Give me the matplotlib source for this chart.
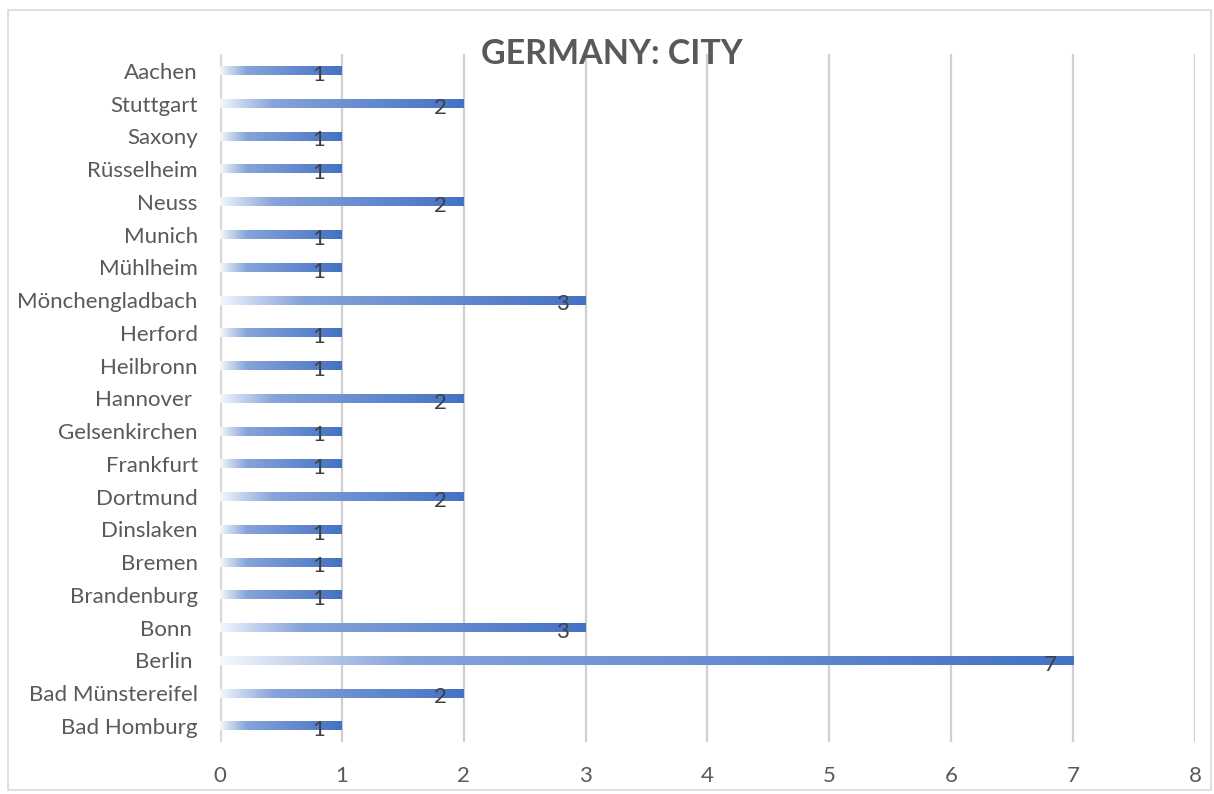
import matplotlib
matplotlib.use("Agg")
import matplotlib.pyplot as plt
import numpy as np
from matplotlib.colors import LinearSegmentedColormap
from matplotlib.patches import Rectangle

cities = ["Bad Homburg", "Bad Münstereifel", "Berlin ", "Bonn ", "Brandenburg",
          "Bremen", "Dinslaken", "Dortmund", "Frankfurt", "Gelsenkirchen",
          "Hannover ", "Heilbronn", "Herford", "Mönchengladbach", "Mühlheim",
          "Munich", "Neuss", "Rüsselheim", "Saxony", "Stuttgart", "Aachen"]
counts = [1, 2, 7, 3, 1, 1, 1, 2, 1, 1, 2, 1, 1, 3, 1, 1, 2, 1, 1, 2, 1]
x_ticks = [0, 1, 2, 3, 4, 5, 6, 7, 8]
title = "GERMANY: CITY"

plt.rcParams['font.family'] = ['Lato', 'DejaVu Sans']
text_color = "#595959"
grid_color = "#D0D0D0"

fig = plt.figure(figsize=(12.14, 7.94), dpi=100)
ax = fig.add_axes([0.1812, 0.065, 0.8031, 0.8665])

grad = LinearSegmentedColormap.from_list(
    "bar_grad", [(0.0, "#F4F7FC"), (0.08, "#C9D6EF"), (0.22, "#86A3DA"),
                 (1.0, "#4472C4")])
ramp = np.linspace(0, 1, 256).reshape(1, -1)

bar_h = 0.27
ypos = np.arange(len(cities))
for y, v in zip(ypos, counts):
    ax.imshow(ramp, cmap=grad, aspect="auto", interpolation="bilinear",
              extent=[0, v, y - bar_h / 2, y + bar_h / 2], zorder=3)
    ax.annotate(str(v), xy=(v, y), xytext=(-16.5, -3), textcoords="offset points",
                ha="center", va="center", fontsize=16, color="#404040", zorder=4)

ax.set_xlim(0, 8)
ax.set_ylim(-0.5, len(cities) - 0.5)
ax.set_xticks(x_ticks)
ax.set_xticklabels([str(t) for t in x_ticks])
ax.set_yticks(ypos)
ax.set_yticklabels(cities)
ax.tick_params(axis="both", length=0, labelsize=16, colors=text_color)
ax.tick_params(axis="x", pad=17)
ax.tick_params(axis="y", pad=16)
for s in ax.spines.values():
    s.set_visible(False)
for t in x_ticks[1:]:
    ax.axvline(t, color=grid_color, lw=1.6, zorder=1)
ax.axvline(0, color="#D9D9D9", lw=2.5, zorder=2)

fig.text(0.504, 0.932, title, ha="center", va="center", fontsize=24.5,
         fontweight="bold", color=text_color)

fig.patches.append(Rectangle((8 / 1214, 4 / 794), 1203 / 1214, 780 / 794,
                             transform=fig.transFigure, fill=False,
                             edgecolor="#D9D9D9", lw=1.2))

fig.savefig("out.png", dpi=100)
